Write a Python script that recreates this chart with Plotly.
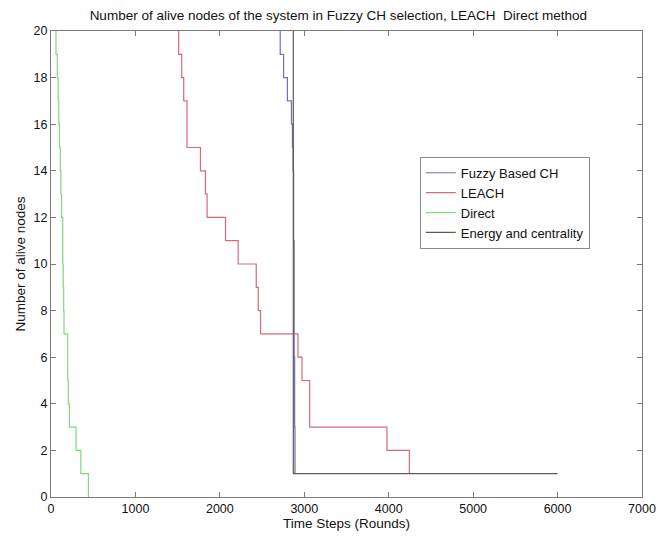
import plotly.graph_objects as go

# Step data: (time of change, value held from that time on)
FUZZY_T = [2715, 2715, 2755, 2800, 2848, 2860, 2868, 2874, 2880, 2886, 2890]
FUZZY_V = [20, 19, 18, 17, 16, 15, 14, 11, 6, 3, 1]

LEACH_T = [1512, 1512, 1548, 1572, 1611, 1770, 1829, 1849, 2067, 2217, 2431, 2455, 2482, 2925, 2973, 3064, 3979, 4244]
LEACH_V = [20, 19, 18, 17, 15, 14, 13, 12, 11, 10, 9, 8, 7, 6, 5, 3, 2, 1]

DIRECT_T = [59, 59, 75, 85, 92, 100, 110, 117, 125, 139, 145, 150, 154, 198, 205, 218, 297, 353, 443]
DIRECT_V = [20, 19, 18, 17, 16, 15, 14, 13, 12, 10, 9, 8, 7, 5, 4, 3, 2, 1, 0]

ENERGY_T = [2870, 2870, 6000]
ENERGY_V = [20, 1, 1]

X_TICKS = [0, 1000, 2000, 3000, 4000, 5000, 6000, 7000]
Y_TICKS = [0, 2, 4, 6, 8, 10, 12, 14, 16, 18, 20]

series = [
    ("Fuzzy Based CH", FUZZY_T, FUZZY_V, "#6f6fbf"),
    ("LEACH", LEACH_T, LEACH_V, "#d86a72"),
    ("Direct", DIRECT_T, DIRECT_V, "#7fd97f"),
    ("Energy and centrality", ENERGY_T, ENERGY_V, "#5a5a5a"),
]

fig = go.Figure()
for name, t, v, c in series:
    fig.add_trace(go.Scatter(x=t, y=v, name=name, mode="lines",
                             line=dict(color=c, width=1.2, shape="hv")))

font = "Liberation Sans, Arial, sans-serif"
axis_common = dict(showgrid=False, zeroline=False, showline=True, linecolor="#7a7a7a",
                   linewidth=1, mirror="ticks", ticks="inside", ticklen=5, automargin=False,
                   tickcolor="#7a7a7a", tickfont=dict(family=font, size=12.5, color="#111"))

fig.update_layout(
    width=657, height=536,
    margin=dict(l=51, r=15, t=31, b=39),
    paper_bgcolor="white", plot_bgcolor="white",
    title=dict(text="Number of alive nodes of the system in Fuzzy CH selection, LEACH  Direct method",
               x=0.515, xanchor="center", y=0.972, yanchor="middle",
               font=dict(family=font, size=13.5, color="#111")),
    xaxis=dict(range=[0, 7000], tickvals=X_TICKS,
               title=dict(text="Time Steps (Rounds)", font=dict(family=font, size=13.5, color="#111"), standoff=3),
               **axis_common),
    yaxis=dict(range=[0, 20], tickvals=Y_TICKS,
               title=dict(text="Number of alive nodes", font=dict(family=font, size=13.5, color="#111"), standoff=4),
               **axis_common),
    legend=dict(x=0.624, y=0.73, xanchor="left", yanchor="top",
                bordercolor="#8a8a8a", borderwidth=1, bgcolor="white",
                font=dict(family=font, size=13, color="#111"),
                tracegroupgap=0, itemwidth=30),
    showlegend=True,
)

fig.write_html("out.html")
